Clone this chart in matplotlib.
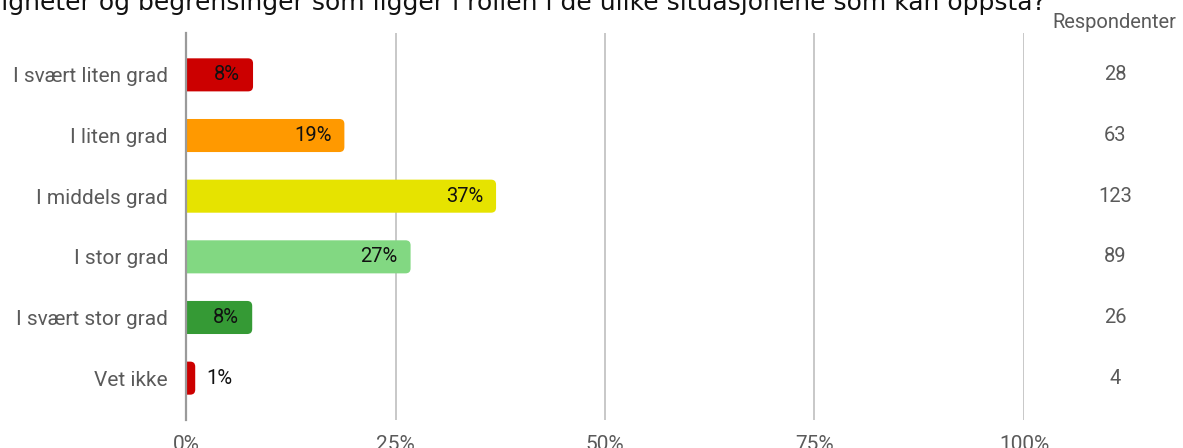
import matplotlib
matplotlib.use('Agg')

import matplotlib.pyplot as plt
from matplotlib.patches import FancyBboxPatch
from matplotlib import transforms

# Data
categories = ['I svært liten grad', 'I liten grad', 'I middels grad',
              'I stor grad', 'I svært stor grad', 'Vet ikke']
shares = [8.0, 18.9, 37.0, 26.8, 7.9, 1.1]
share_labels = ['8%', '19%', '37%', '27%', '8%', '1%']
respondents = [28, 63, 123, 89, 26, 4]
bar_colors = ['#cc0000', '#ff9900', '#e6e300', '#82d882', '#359a35', '#cc0000']
x_ticks = [0, 25, 50, 75, 100]
x_tick_labels = ['0%', '25%', '50%', '75%', '100%']
title = ('muligheter og begrensinger som ligger i rollen i de ulike '
         'situasjonene som kan oppstå?')

W, H, DPI = 1183, 448, 100
fig = plt.figure(figsize=(W / DPI, H / DPI), dpi=DPI)
ax = fig.add_axes([186 / W, 28 / H, 838 / W, 387 / H])

font = 'Roboto'
grey = '#5a5a5a'

ypos = list(range(len(categories)))
bars = ax.barh(ypos, shares, height=0.545, color='none')
ax.set_xlim(0, 100)
ax.set_ylim(len(categories) - 1 + 0.69, -0.69)

# rounded bar ends (radius ~5 px)
px_x = 100 / 838
px_y = 1 / 60.6
r = 5 * px_x
for rect, c in zip(bars, bar_colors):
    x, y = rect.get_x(), rect.get_y()
    w, h = rect.get_width(), rect.get_height()
    p = FancyBboxPatch((x - r, y), w + r, h,
                       boxstyle=f'round,pad=0,rounding_size={r}',
                       mutation_aspect=px_y / px_x,
                       facecolor=c, edgecolor='none', zorder=2)
    ax.add_patch(p)

# value labels
off = transforms.offset_copy(ax.transData, fig=fig, x=-13, y=0, units='dots')
off_out = transforms.offset_copy(ax.transData, fig=fig, x=11, y=0, units='dots')
for i, (v, lab) in enumerate(zip(shares, share_labels)):
    if v > 3:
        ax.text(v, i, lab, transform=off, ha='right', va='center',
                fontsize=14.5, family=font, color='#111111', zorder=3)
    else:
        ax.text(v, i, lab, transform=off_out, ha='left', va='center',
                fontsize=14.5, family=font, color='#111111', zorder=3)

# respondents column
tr = transforms.blended_transform_factory(fig.transFigure, ax.transData)
for i, n in enumerate(respondents):
    ax.text(1115 / W, i, str(n), transform=tr, ha='center', va='center',
            fontsize=14.5, family=font, color=grey)
fig.text(1114 / W, 1 - 22 / H, 'Respondenter', ha='center', va='center',
         fontsize=14.5, family=font, color=grey)

# title, partly cut off at the top like the source
fig.text(1046 / W, 1 - 10 / H, title, ha='right', va='baseline',
         fontsize=18, family='DejaVu Sans', color='#111111')

ax.set_yticks(ypos)
ax.set_yticklabels(categories, family=font, fontsize=15, color=grey)
ax.set_xticks(x_ticks)
ax.set_xticklabels(x_tick_labels, family=font, fontsize=15, color=grey)
ax.tick_params(axis='y', length=0, pad=13)
ax.tick_params(axis='x', length=0, pad=10.5)

for s in ['top', 'right', 'bottom']:
    ax.spines[s].set_visible(False)
ax.spines['left'].set_color('#9a9a9a')
ax.spines['left'].set_linewidth(1.6)
ax.spines['left'].set_zorder(4)
ax.grid(axis='x', color='#c8c8c8', linewidth=1.4, zorder=0)
ax.set_axisbelow(True)

fig.savefig('out.png', dpi=DPI)
plt.close(fig)
